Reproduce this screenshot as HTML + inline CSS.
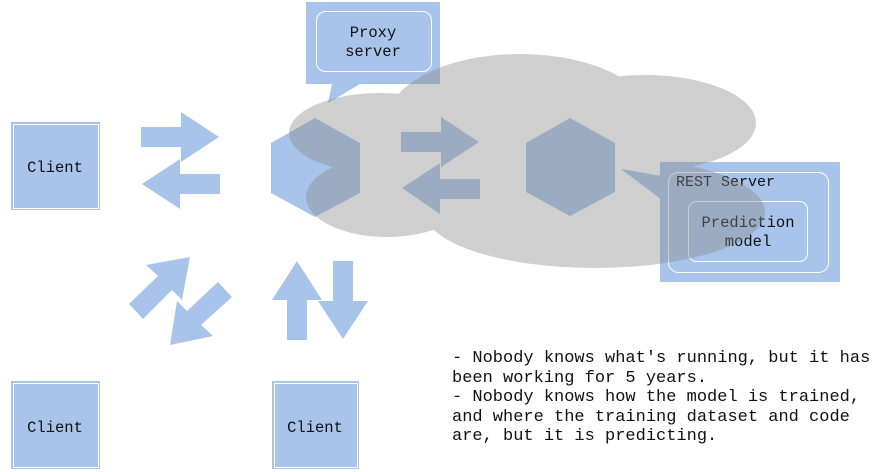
<!DOCTYPE html>
<html><head><style>
body{margin:0;background:#fff;width:874px;height:472px;overflow:hidden;position:relative;font-family:"Liberation Mono",monospace}
svg{position:absolute;left:0;top:0}
.t{position:absolute;font-size:17px;line-height:19.6px;left:452px;top:349px;white-space:pre;color:#111}
</style></head><body>
<svg width="874" height="472" font-family="Liberation Mono, monospace">
<g fill="#a8c4ea">
<rect x="306" y="2" width="134" height="82"/>
<polygon points="332,84 328,103 360,84"/>
<polygon points="315,118 360,143 360,193 315,217 271,193 271,143"/>
<polygon points="570,118 615,143 615,192 570,216 526,192 526,143"/>
<polygon points="401,132 441,132 441,117 479,142 441,167 441,152 401,152"/>
<polygon points="402,188 440,163 440,179 480,179 480,199 440,199 440,214"/>
<polygon points="141,127 181,127 181,112 219,137 181,162 181,147 141,147"/>
<polygon points="142,184 180,159 180,174 220,174 220,194 180,194 180,209"/>
<polygon points="297,261 322,300 307,300 307,340 287,340 287,300 272,300"/>
<polygon points="333,261 353,261 353,301 368,301 343,339 318,301 333,301"/>
<polygon points="190,257 182,300 172,290 143,319 129,304 158,276 146,265"/>
<polygon points="170,345 177,301 187,311 218,282 232,297 201,325 213,336"/>
<rect x="11" y="122" width="89" height="88"/>
<rect x="11" y="381" width="89" height="88"/>
<rect x="272" y="381" width="87" height="88"/>
<rect x="660" y="162" width="180" height="120"/>
<polygon points="621,169 662,176 662,200"/>
</g>
<g fill="none" stroke="#fff" stroke-width="1">
<rect x="316.5" y="11.5" width="115" height="60" rx="9"/>
<rect x="13.5" y="124.5" width="85" height="84"/>
<rect x="13.5" y="383.5" width="85" height="84"/>
<rect x="274.5" y="383.5" width="83" height="84"/>
<rect x="668.5" y="172.5" width="160" height="100" rx="10"/>
<rect x="688.5" y="201.5" width="119" height="60" rx="8"/>
</g>
<g font-size="15.5" fill="#111" text-anchor="middle">
<text x="373" y="37">Proxy</text>
<text x="373" y="56">server</text>
<text x="55" y="172">Client</text>
<text x="55" y="432">Client</text>
<text x="315" y="432">Client</text>
<text x="676" y="186" text-anchor="start" font-size="15">REST Server</text>
<text x="748" y="227" font-size="15.5">Prediction</text>
<text x="748" y="246" font-size="15.5">model</text>
</g>
<g fill="#898989" opacity="0.4">
<ellipse cx="380" cy="133" rx="91" ry="40"/>
<ellipse cx="387" cy="197" rx="81" ry="40"/>
<ellipse cx="520" cy="120" rx="132" ry="66"/>
<ellipse cx="645" cy="123" rx="111" ry="48"/>
<ellipse cx="595" cy="212" rx="170" ry="56"/>
<ellipse cx="480" cy="175" rx="150" ry="50"/>
</g>
</svg>
<div class="t">- Nobody knows what's running, but it has
been working for 5 years.
- Nobody knows how the model is trained,
and where the training dataset and code
are, but it is predicting.</div>
</body></html>
